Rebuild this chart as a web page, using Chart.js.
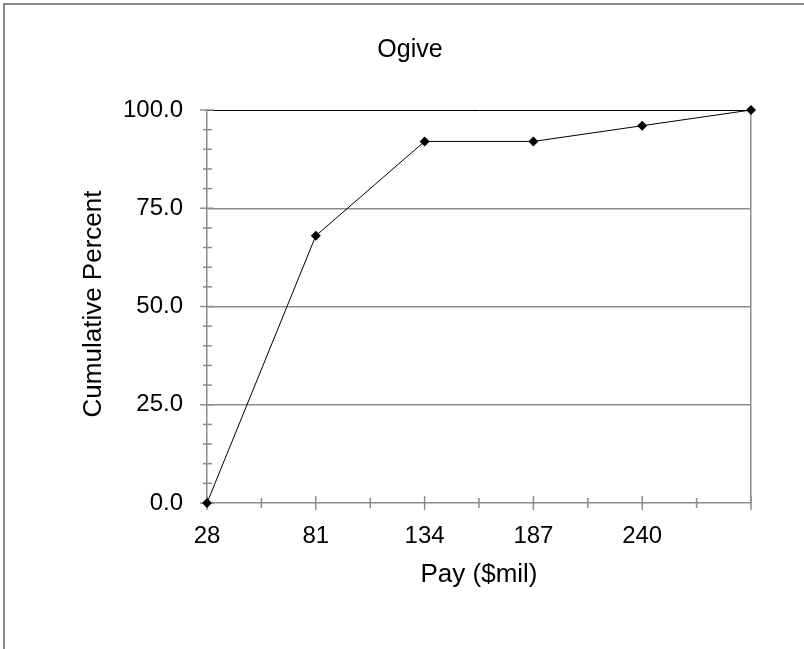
<!DOCTYPE html>
<html>
<head>
<meta charset="utf-8">
<script src="https://cdn.jsdelivr.net/npm/chart.js@4/dist/chart.umd.min.js"></script>
<style>
  html, body { margin: 0; padding: 0; background: #fff; }
  #wrap { position: relative; width: 804px; height: 649px; }
</style>
</head>
<body>
<div id="wrap"><canvas id="c" width="804" height="649"></canvas></div>
<script>
const chartTitle = 'Ogive';
const xAxisTitle = 'Pay ($mil)';
const yAxisTitle = 'Cumulative Percent';
const categories = ['28', '81', '134', '187', '240', '293'];
const shownXLabels = ['28', '81', '134', '187', '240', ''];
const cumulativePercent = [0, 68, 92, 92, 96, 100];
const yTicks = [0, 25, 50, 75, 100];

const FONT = 'Liberation Sans, Arial, sans-serif';
const GRAY = '#8c8c8c';

const decor = {
  id: 'decor',
  beforeDraw(chart) {
    const ctx = chart.ctx;
    ctx.save();
    ctx.fillStyle = '#fff';
    ctx.fillRect(0, 0, chart.width, chart.height);
    ctx.strokeStyle = '#8a8a8a';
    ctx.lineWidth = 2;
    ctx.beginPath();
    ctx.moveTo(4, chart.height + 5);
    ctx.lineTo(4, 4);
    ctx.lineTo(chart.width + 5, 4);
    ctx.stroke();
    ctx.restore();
  },
  beforeDatasetsDraw(chart) {
    const ctx = chart.ctx;
    const xs = chart.scales.x, ys = chart.scales.y;
    ctx.save();
    ctx.strokeStyle = GRAY;
    ctx.lineWidth = 1.5;
    const y0 = ys.getPixelForValue(0);
    for (let v = 0; v <= 100; v += 5) {
      const py = ys.getPixelForValue(v);
      const major = v % 25 === 0;
      ctx.beginPath();
      ctx.moveTo(xs.left - (major ? 7 : 4), py);
      ctx.lineTo(xs.left + (major ? 7 : 5), py);
      ctx.stroke();
    }
    const n = categories.length;
    for (let i = 0; i < n; i++) {
      const px = xs.getPixelForValue(i);
      ctx.beginPath();
      ctx.moveTo(px, y0 - 7);
      ctx.lineTo(px, y0 + 7);
      ctx.stroke();
      if (i < n - 1) {
        const mx = (px + xs.getPixelForValue(i + 1)) / 2;
        ctx.beginPath();
        ctx.moveTo(mx, y0 - 5);
        ctx.lineTo(mx, y0 + 5);
        ctx.stroke();
      }
    }
    ctx.restore();
  },
  afterDraw(chart) {
    const ctx = chart.ctx;
    const xs = chart.scales.x;
    ctx.save();
    ctx.fillStyle = '#000';
    ctx.textAlign = 'center';
    ctx.textBaseline = 'middle';
    ctx.font = '25px ' + FONT;
    ctx.fillText(chartTitle, 410, 50);
    ctx.font = '26px ' + FONT;
    ctx.fillText(xAxisTitle, (xs.left + xs.right) / 2, 575);
    ctx.translate(94, 304);
    ctx.rotate(-Math.PI / 2);
    ctx.fillText(yAxisTitle, 0, 0);
    ctx.restore();
  }
};

new Chart(document.getElementById('c'), {
  type: 'line',
  data: {
    labels: categories,
    datasets: [{
      data: cumulativePercent,
      borderColor: '#000',
      borderWidth: 1,
      backgroundColor: '#000',
      pointStyle: 'rectRot',
      pointRadius: 5,
      pointBorderWidth: 0,
      pointBackgroundColor: '#000',
      tension: 0,
      fill: false,
      clip: false
    }]
  },
  plugins: [decor],
  options: {
    responsive: false,
    animation: false,
    devicePixelRatio: 1,
    layout: { padding: { left: 0, right: 53, top: 110, bottom: 0 } },
    plugins: { legend: { display: false }, title: { display: false }, tooltip: { enabled: false } },
    scales: {
      x: {
        type: 'category',
        offset: false,
        afterFit(s) { s.height = 146; },
        border: { display: true, color: GRAY, width: 1.5 },
        grid: {
          drawTicks: false,
          color: (c) => (c.index === categories.length - 1 ? GRAY : 'rgba(0,0,0,0)'),
          lineWidth: 1.5
        },
        ticks: {
          autoSkip: false,
          maxRotation: 0,
          padding: 19,
          color: '#000',
          font: { family: FONT, size: 24 },
          callback: (v, i) => shownXLabels[i]
        }
      },
      y: {
        min: 0,
        max: 100,
        afterFit(s) { s.width = 207; },
        afterBuildTicks(s) { s.ticks = yTicks.map(v => ({ value: v })); },
        border: { display: true, color: GRAY, width: 1.5 },
        grid: {
          drawTicks: false,
          color: (c) => (c.tick && c.tick.value === 100 ? '#000' : (c.tick && c.tick.value === 0 ? 'rgba(0,0,0,0)' : GRAY)),
          lineWidth: (c) => (c.tick && c.tick.value === 100 ? 1 : 1.5)
        },
        ticks: {
          padding: 24,
          color: '#000',
          font: { family: FONT, size: 24 },
          callback: (v) => Number(v).toFixed(1)
        }
      }
    }
  }
});
</script>
</body>
</html>
